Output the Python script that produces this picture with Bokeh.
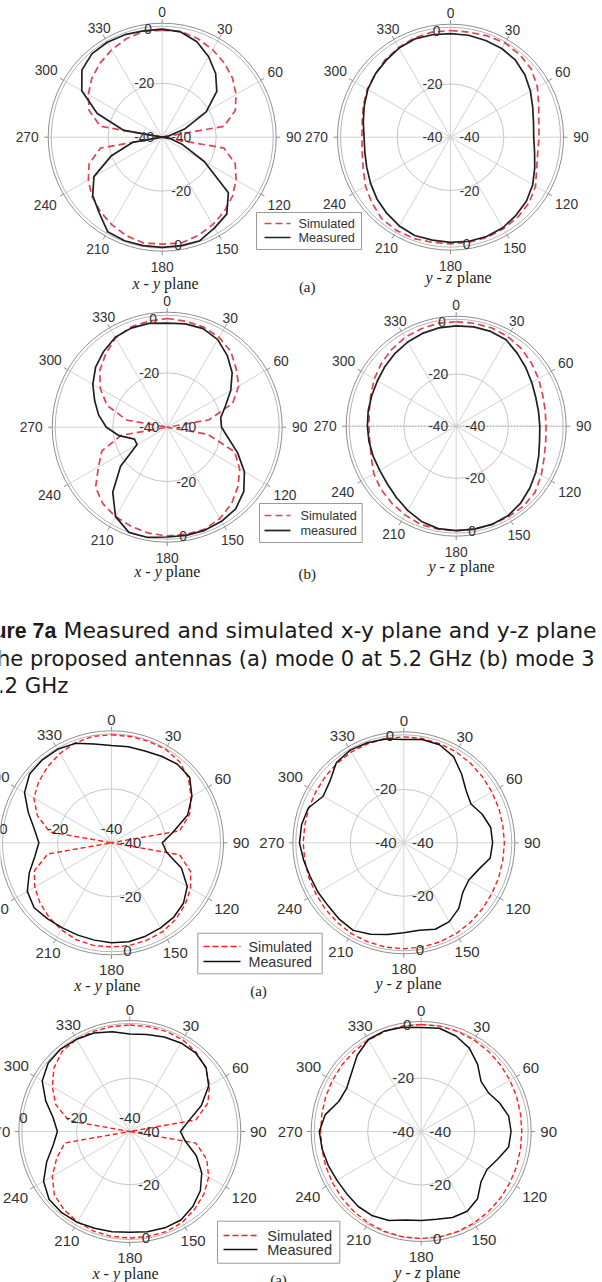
import numpy as np
from bokeh.plotting import figure
from bokeh.models import Range1d
from bokeh.core.properties import value
from bokeh.embed import file_html
from bokeh.resources import INLINE

# ---------------- data ----------------
ANG = list(range(0, 361, 10))            # degrees, clockwise from top
TICK_ANG = list(range(0, 360, 30))
TICK_LAB = [str(a) for a in TICK_ANG]
RAD_DB = [-40, -20, 0]
RAD_LAB = ["-40", "-20", "0"]
LEG_A = ["Simulated", "Measured"]
LEG_B = ["Simulated", "measured"]
CAP_BOLD = "ure 7a"
CAP_1 = "Measured and simulated x-y plane and y-z plane"
CAP_2 = "he proposed antennas (a) mode 0 at 5.2 GHz (b) mode 3"
CAP_3 = "5.2 GHz"

# Figure 7a (a) mode 0, 5.2 GHz
a1_sim = [-0.4, -0.2, -1.2, -2.6, -4.2, -6.0, -8.4, -11.2, -16.8, -40, -16.8, -11.2, -8.4, -6.0, -4.2, -2.6, -1.2, -0.2, -0.4,
          -0.2, -1.2, -2.6, -4.2, -6.0, -8.4, -11.2, -16.8, -40, -16.8, -11.2, -8.4, -6.0, -4.2, -2.6, -1.2, -0.2, -0.4]
a1_meas = [0, -0.4, -2.4, -5.6, -9.2, -13.6, -21.2, -31.2, -37.6, -40, -36.8, -32, -22, -8, -2.8, -1.2, 0.8, 0.8, 0.8,
           0.8, 0.8, 0.4, -3.6, -6.4, -10.8, -20, -28.8, -40, -25.6, -14.4, -5.6, -1.2, 0.4, 0.6, 0.4, 0, 0]
a2_sim = [0, 0, 0.4, 0.8, 0.4, -0.4, -2.4, -4.8, -6.4, -6.8, -6.8, -5.6, -3.2, -1.6, -0.8, -0.4, 0, 0, 0,
          0, 0.4, 0.4, 0, -1.6, -3.2, -5.2, -6.4, -6.8, -6.4, -5.2, -4, -3.2, -2, -1.2, -0.4, 0, 0]
a2_meas = [-1.2, -1.2, -1.4, -1.6, -2.2, -3.6, -5.4, -7.2, -8.4, -8.8, -8, -6.4, -4.4, -2.8, -1.8, -0.8, -0.4, -0.4, -0.6,
           -0.8, -0.8, -1.6, -2.8, -4, -5.4, -6.6, -7.4, -7.6, -6.8, -5.6, -4.2, -3.2, -2.4, -1.4, -0.8, -1, -1.2]
# Figure 7a (b) mode 3, 5.2 GHz
b1_sim = [0, -0.4, -0.8, -1.8, -3.6, -6.8, -9.6, -14.4, -24.4, -40, -24.8, -13.6, -9.2, -6, -3.2, -1.2, 0, 0, 0,
          -0.4, -1.2, -2, -3.2, -5.6, -10.8, -14.4, -22.8, -40, -24.8, -16.4, -11.6, -7.6, -4.8, -2, -0.8, -0.4, 0]
b1_meas = [-1.7, -1.4, -1.4, -2.8, -5.6, -8.8, -13, -17.2, -20, -20, -17.2, -12.4, -7.2, -3.2, -0.8, 0, 0.4, 0.4, 0.4,
           1.2, 1.2, -2, -8.8, -17.6, -27.2, -27.2, -22, -17.6, -14.4, -11.6, -8.4, -5.6, -3.6, -1.8, -1.2, -1.2, -1.7]
b2_sim = [0, 0, 0, -0.4, -1.2, -2.4, -3.6, -4.8, -5.4, -5.6, -5.2, -4.2, -2.4, -0.6, 0, 0, 0, 0, 0,
          0, 0, -0.8, -1.6, -2.4, -3.6, -5.4, -6.4, -6.6, -6.2, -5.2, -3.8, -2.6, -1.6, -0.8, -0.4, 0, 0]
b2_meas = [-1.6, -1.4, -1.4, -1.8, -3.6, -5.2, -6.6, -7.6, -8, -8, -7.6, -6.4, -4.8, -3.2, -1.6, -0.4, 0, 0, 0,
           -0.2, -1.2, -2.8, -4.4, -5.6, -6.2, -6.2, -6.1, -6, -5.8, -5.6, -5.2, -4.4, -3.6, -2.8, -2.2, -1.8, -1.6]
# lower figure, first pair
c1_sim = [0, 0, 0, 0, -0.8, -2.8, -6, -9.2, -14.4, -40, -14.4, -8.8, -6.2, -4.4, -3, -2, -1.6, -1.4, -1.4,
          -1.4, -1.8, -2.8, -4, -5.4, -7.2, -9.6, -16, -40, -16.8, -10.8, -6.8, -4.8, -3.2, -1.8, -0.6, 0, 0]
c1_meas = [-4, -3.9, -3.8, -3, -2, -2.2, -5.6, -10, -16.8, -21.2, -19.2, -12.4, -7.6, -5.2, -4.1, -3.6, -3.2, -2.8, -3,
           -3.4, -3.6, -3.6, -3.2, -2.6, -4, -7.6, -11.2, -13.1, -11, -7.2, -2.8, -0.4, 0, 0, -0.8, -2.8, -4]
c2_sim = [-0.4, -0.4, -0.6, -0.8, -1.2, -1.6, -2, -2.2, -2.4, -2.4, -2.4, -2.2, -2, -1.6, -1.2, -0.8, -0.6, -0.4, -0.4,
          -0.4, -0.6, -0.8, -1.2, -1.6, -2, -2.2, -2.4, -2.4, -2.4, -2.2, -2, -1.6, -1.2, -0.8, -0.6, -0.4, -0.4]
c2_meas = [-1.4, -0.8, -1, -2.8, -6.4, -9.6, -11, -8.8, -7, -6.8, -7.2, -10.4, -12, -11.2, -8, -6, -5.6, -6.8, -6.4,
           -5.2, -3.6, -2.2, -2.6, -3.2, -3, -2.8, -2, -1, -1.2, -2, -5.2, -4, -0.8, 0, -0.2, -0.6, -1.4]
# lower figure, second pair
d1_sim = [0, 0, 0, -0.2, -1.2, -2.8, -5.4, -8.8, -14.8, -40, -14.8, -9.2, -5.8, -3.6, -2, -0.6, 0, 0, 0,
          0, -0.2, -0.8, -1.6, -3, -6.4, -10.8, -15.2, -40, -16.8, -10.4, -6.4, -2.8, -0.6, 0, 0, 0, 0]
d1_meas = [-3.4, -3, -2.2, -1.6, -1.5, -2.6, -5.8, -11.4, -17.6, -21, -18.8, -13.4, -8.8, -5.4, -3.2, -1.6, -1.5, -1.8, -2.2,
           -1.8, -1.3, -0.6, -0.2, -0.4, -2.6, -6.8, -10.8, -12.8, -10.8, -6.4, -2, 0, 0.4, 0, -0.6, -2, -3.4]
d2_sim = [0, 0, -0.2, -0.5, -0.9, -1.3, -1.7, -2, -2.3, -2.4, -2.3, -2, -1.7, -1.3, -0.9, -0.5, -0.2, 0, 0,
          0, -0.2, -0.5, -0.9, -1.3, -1.7, -2, -2.3, -2.4, -2.3, -2, -1.7, -1.3, -0.9, -0.5, -0.2, 0, 0]
d2_meas = [-1.1, -0.8, -2, -4, -7.2, -10.8, -11, -8.8, -6.8, -6.4, -6.8, -9.6, -11.6, -10.8, -7.2, -5.6, -5.8, -6.7, -6.7,
           -6.4, -4.6, -3.6, -3.4, -3.7, -3.6, -3, -2.4, -1.9, -3.6, -7.2, -7.8, -6, -2.8, -0.4, 0, -0.4, -1.1]

# ---------------- figure ----------------
W, H = 602, 1282
p = figure(width=W, height=H, x_range=Range1d(0, W), y_range=Range1d(H, 0),
           x_axis_type=None, y_axis_type=None, toolbar_location=None,
           output_backend="svg", min_border=0)
p.outline_line_color = None
p.background_fill_color = "white"
p.border_fill_color = "white"

SANS = value("Liberation Sans")
SERIF = value("Liberation Serif")


def rad(r0, db):
    return r0 * (np.clip(np.asarray(db, float), -40, None) + 40.0) / 40.0


def to_xy(cx, cy, r, ang):
    t = np.radians(np.asarray(ang, float))
    return cx + r * np.sin(t), cy - r * np.cos(t)


specs = [
    dict(cx=161.7, cy=136.7, r0=108.0, ro=114.0, sim=a1_sim, meas=a1_meas, pat="A", top=True, plane=("x - y", 165, 283)),
    dict(cx=450.0, cy=136.7, r0=106.7, ro=113.0, sim=a2_sim, meas=a2_meas, pat="A", top=True, plane=("y - z", 458, 277)),
    dict(cx=166.7, cy=426.7, r0=108.7, ro=115.0, sim=b1_sim, meas=b1_meas, pat="A", top=True, plane=("x - y", 166.7, 571)),
    dict(cx=455.7, cy=425.7, r0=104.5, ro=110.0, sim=b2_sim, meas=b2_meas, pat="A", top=True, plane=("y - z", 461, 566), dotted=True),
    dict(cx=111.0, cy=842.3, r0=108.0, ro=112.0, sim=c1_sim, meas=c1_meas, pat="C", top=False, plane=("x - y", 106.7, 985)),
    dict(cx=403.3, cy=842.3, r0=107.0, ro=111.0, sim=c2_sim, meas=c2_meas, pat="A", top=False, plane=("y - z", 408, 983)),
    dict(cx=129.3, cy=1131.0, r0=106.5, ro=111.0, sim=d1_sim, meas=d1_meas, pat="C", top=False, plane=("x - y", 125, 1273)),
    dict(cx=420.7, cy=1131.0, r0=107.0, ro=110.0, sim=d2_sim, meas=d2_meas, pat="A", top=False, plane=("y - z", 426.7, 1271.7)),
]

LAB_OFF = np.array([11, 11, 16.5, 17.5, 21, 15.5, 15.5, 15, 21, 21, 20, 12])

for s in specs:
    cx, cy, r0, ro = s["cx"], s["cy"], s["r0"], s["ro"]
    top = s["top"]
    n = len(TICK_ANG)
    ex, ey = to_xy(cx, cy, np.full(n, ro), TICK_ANG)
    # spokes
    p.segment(x0=[cx] * n, y0=[cy] * n, x1=ex, y1=ey, line_color="#d3d3d3", line_width=1)
    if s.get("dotted"):
        hx, hy = to_xy(cx, cy, np.array([ro, ro]), [90, 270])
        p.segment(x0=[hx[0]], y0=[hy[0]], x1=[hx[1]], y1=[hy[1]], line_color="#9a9a9a",
                  line_width=1, line_dash="1 2")
    # rings
    p.circle(x=[cx] * 3, y=[cy] * 3, radius=[r0 / 2.0, ro - 3.0, ro], fill_color=None,
             line_color=["#c6c6c6", "#b4b4b4", "#8e8e8e"], line_width=1)
    # outer ticks
    tx1, ty1 = to_xy(cx, cy, np.full(n, ro + 4), TICK_ANG)
    p.segment(x0=ex, y0=ey, x1=tx1, y1=ty1, line_color="#8e8e8e", line_width=1)

    # curves
    sx, sy = to_xy(cx, cy, rad(r0, s["sim"]), ANG)
    mx, my = to_xy(cx, cy, rad(r0, s["meas"]), ANG)
    if top:
        p.line(sx, sy, line_color="#e0434f", line_width=1.7, line_dash="7 4", line_join="round")
        p.line(mx, my, line_color="#202020", line_width=1.7, line_join="round")
    else:
        p.line(sx, sy, line_color="#ff1c1c", line_width=1.4, line_dash="5 3", line_join="round")
        p.line(mx, my, line_color="#111111", line_width=1.5, line_join="round")

    fs = "13.8px" if top else "15px"
    # angle labels
    lx, ly = to_xy(cx, cy, ro + LAB_OFF, TICK_ANG)
    p.text(x=lx, y=ly, text=TICK_LAB, text_font=SANS, text_font_size=fs, text_align="center",
           text_baseline="middle", text_color="#333333")
    # radial (dB) labels
    rr = rad(r0, RAD_DB)
    if s["pat"] == "A":
        x0s = [cx - 18, cx - 18, cx - 14]
        y0s = list(cy - rr)
    else:
        x0s = list(cx - rr)
        y0s = [cy - 14] * 3
    x1s = [cx + 19, cx + 19, cx + 16]
    y1s = list(cy + rr)
    p.text(x=x0s + x1s, y=y0s + y1s, text=RAD_LAB + RAD_LAB, text_font=SANS, text_font_size=fs,
           text_align="center", text_baseline="middle", text_color="#333333")
    # plane label
    pl, px, py = s["plane"]
    p.text(x=[px - 33], y=[py], text=[pl], text_font=SERIF, text_font_style="italic",
           text_font_size="16px", text_align="left", text_baseline="middle", text_color="#222222")
    p.text(x=[px - 1.5], y=[py], text=["plane"], text_font=SERIF,
           text_font_size="16px", text_align="left", text_baseline="middle", text_color="#222222")


def legend(l, r, t, b, y1, y2, lx0, lx1, tx, labels, top, fs):
    p.quad(left=[l], right=[r], top=[t], bottom=[b], fill_color="white", line_color="#9a9a9a", line_width=1)
    if top:
        p.line([lx0, lx1], [y1, y1], line_color="#e0434f", line_width=1.7, line_dash="7 4")
        p.line([lx0, lx1], [y2, y2], line_color="#202020", line_width=1.7)
    else:
        p.line([lx0, lx1], [y1, y1], line_color="#ff1c1c", line_width=1.6, line_dash="6 3")
        p.line([lx0, lx1], [y2, y2], line_color="#111111", line_width=1.6)
    p.text(x=[tx, tx], y=[y1, y2], text=labels, text_font=SANS, text_font_size=fs,
           text_align="left", text_baseline="middle", text_color="#333333")


legend(256, 361, 212, 249, 223, 237, 264, 290, 298, LEG_A, True, "12.7px")
legend(259, 361.7, 503, 542, 515, 530, 264, 290, 300, LEG_B, True, "12.7px")
legend(197.3, 321.7, 932.7, 973.3, 946, 961, 203, 240, 248, LEG_A, False, "14.3px")
legend(217, 339.3, 1220.7, 1262.7, 1235, 1249, 223, 257, 266.7, LEG_A, False, "14.6px")

# sub-figure tags
p.text(x=[306.7, 306.7, 258, 278], y=[286, 573, 990, 1279], text=["(a)", "(b)", "(a)", "(a)"],
       text_font=SERIF, text_font_size="15px", text_align="center", text_baseline="middle", text_color="#222222")

# caption
DV = value("DejaVu Sans")
p.text(x=[-7], y=[630], text=[CAP_BOLD], text_font=SANS, text_font_style="bold", text_font_size="21.3px",
       text_align="left", text_baseline="middle", text_color="#1a1a1a")
p.text(x=[596], y=[630], text=[CAP_1], text_font=DV, text_font_size="21.9px",
       text_align="right", text_baseline="middle", text_color="#1a1a1a")
p.text(x=[594], y=[658], text=[CAP_2], text_font=DV, text_font_size="21px",
       text_align="right", text_baseline="middle", text_color="#1a1a1a")
p.text(x=[68], y=[685], text=[CAP_3], text_font=DV, text_font_size="21.3px",
       text_align="right", text_baseline="middle", text_color="#1a1a1a")

open("out.html", "w").write(file_html(p, INLINE))
